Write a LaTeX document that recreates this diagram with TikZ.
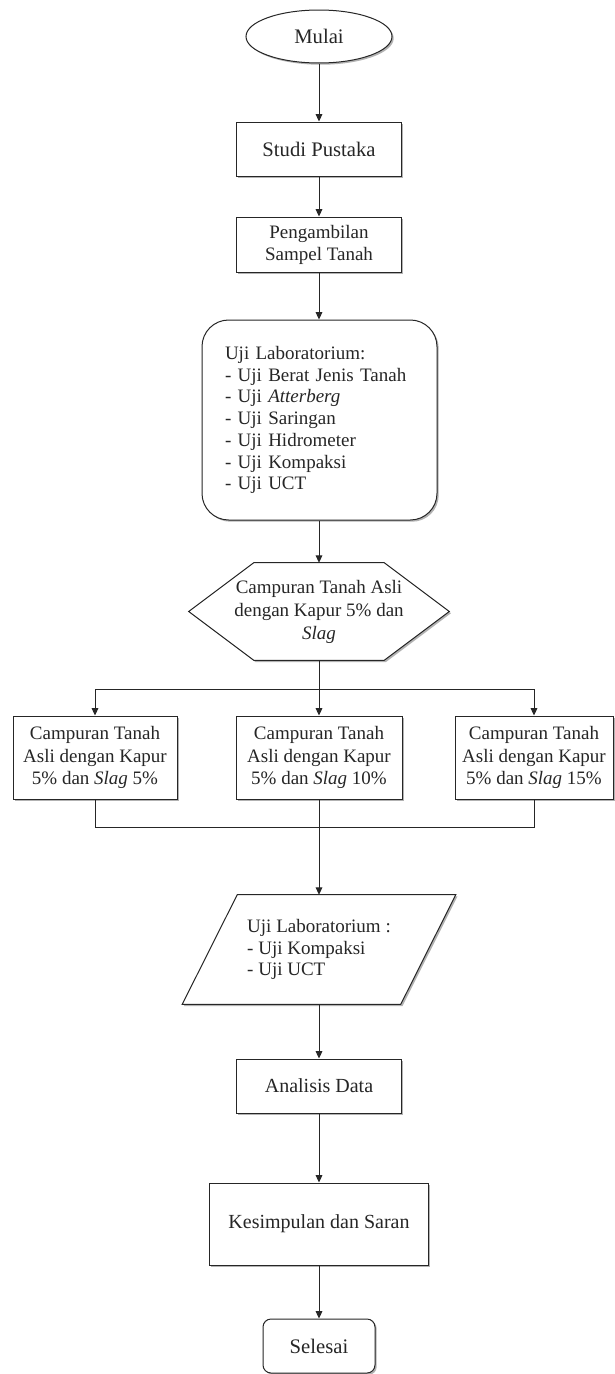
\documentclass[tikz,border=0pt]{standalone}
\usepackage{fontspec}
\setmainfont{Liberation Serif}
\usetikzlibrary{arrows.meta,shapes.geometric,shadows,backgrounds}
\begin{document}
\begin{tikzpicture}[x=0.75pt,y=-0.75pt,
  shd/.style={drop shadow={shadow xshift=1.3pt,shadow yshift=-1.3pt,fill=black,opacity=0.3}},
  base/.style={draw=black!85,line width=0.75pt,fill=white,shd,inner sep=0pt,align=center,text=black!85,font=\fontsize{14.25}{17}\selectfont},
  sz/.style 2 args={minimum width=#1*0.75pt,minimum height=#2*0.75pt},
  big/.style={font=\fontsize{15.5}{18}\selectfont},
  arr/.style={draw=black!85,line width=0.75pt,-{Triangle[length=5.5pt,width=5pt]}},
  ln/.style={draw=black!85,line width=0.75pt}]
\useasboundingbox (0,0) rectangle (614,1374);

\node[base,ellipse,sz={146}{53},big] (mulai) at (319,36.5) {Mulai};
\node[base,rectangle,sz={165}{54},big] (studi) at (319,149) {Studi Pustaka};
\node[base,rectangle,sz={165}{55},font=\fontsize{14.25}{16.5}\selectfont] (ambil) at (319,244.5) {Pengambilan\\Sampel Tanah};
\node[base,rectangle,rounded corners=20pt,sz={235}{200},text width=141.75pt,align=left,font=\fontsize{14.25}{16.3}\selectfont] (lab) at (319.5,420) {Uji Laboratorium:\\- Uji Berat Jenis Tanah\\- Uji \textit{Atterberg}\\- Uji Saringan\\- Uji Hidrometer\\- Uji Kompaksi\\- Uji UCT};

\node[inner sep=0pt,sz={260}{97},align=center,text=black!85,font=\fontsize{14.25}{17.25}\selectfont] (hex) at (319,611.5) {Campuran Tanah Asli\\dengan Kapur 5\% dan\\\textit{Slag}};
\begin{scope}[on background layer]
\draw[ln,fill=white,shd] (hex.west) -- ([xshift=48.75pt]hex.north west) -- ([xshift=-48.75pt]hex.north east) -- (hex.east) -- ([xshift=-48.75pt]hex.south east) -- ([xshift=48.75pt]hex.south west) -- cycle;
\end{scope}

\coordinate (j1) at (319,689);
\coordinate (j2) at (319,827);

\node[base,rectangle,sz={164}{83}] (b1) at (95,757.5) {Campuran Tanah\\Asli dengan Kapur\\5\% dan \textit{Slag} 5\%};
\node[base,rectangle,sz={166}{83}] (b2) at (319,757.5) {Campuran Tanah\\Asli dengan Kapur\\5\% dan \textit{Slag} 10\%};
\node[base,rectangle,sz={158}{83}] (b3) at (534,757.5) {Campuran Tanah\\Asli dengan Kapur\\5\% dan \textit{Slag} 15\%};

\node[inner sep=0pt,sz={273}{109},align=left,text=black!85,font=\fontsize{14.25}{16}\selectfont] (par) at (319,949.5) {Uji Laboratorium :\\- Uji Kompaksi\\- Uji UCT};
\begin{scope}[on background layer]
\draw[ln,fill=white,shd] ([xshift=41.25pt]par.north west) -- (par.north east) -- ([xshift=-41.25pt]par.south east) -- (par.south west) -- cycle;
\end{scope}

\node[base,rectangle,sz={165}{54},font=\fontsize{15}{18}\selectfont] (anal) at (319,1086) {Analisis Data};
\node[base,rectangle,sz={219}{82},font=\fontsize{15}{18}\selectfont] (kes) at (319,1224) {Kesimpulan dan Saran};
\node[base,rectangle,rounded corners=6pt,sz={112}{54},big] (sel) at (319,1346) {Selesai};

\draw[arr] (mulai.south) -- (studi.north);
\draw[arr] (studi.south) -- (ambil.north);
\draw[arr] (ambil.south) -- (lab.north -| ambil.south);
\draw[arr] (lab.south -| hex.north) -- (hex.north);
\draw[ln] (hex.south) -- (j1);
\draw[arr] (j1) -| (b1.north);
\draw[arr] (j1) -- (b2.north);
\draw[arr] (j1) -| (b3.north);
\draw[ln] (b1.south) |- (j2);
\draw[ln] (b3.south) |- (j2);
\draw[arr] (b2.south) -- (par.north);
\draw[arr] (par.south) -- (anal.north);
\draw[arr] (anal.south) -- (kes.north);
\draw[arr] (kes.south) -- (sel.north);
\end{tikzpicture}
\end{document}
